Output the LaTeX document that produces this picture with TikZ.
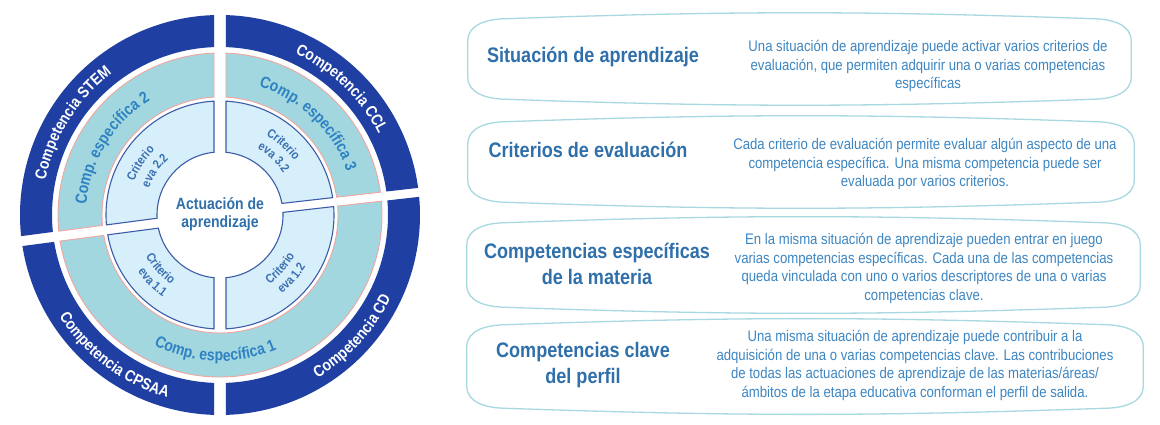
\documentclass[tikz,border=0pt]{standalone}
\usepackage{fontspec}
\setmainfont{Liberation Sans}[FakeStretch=0.86]
\usetikzlibrary{decorations.text}

\definecolor{azulosc}{HTML}{1F3FA3}
\definecolor{turquesa}{HTML}{A3D7E0}
\definecolor{celeste}{HTML}{D7EFFA}
\definecolor{contorno}{HTML}{3D5CA8}
\definecolor{salmon}{HTML}{F2A5A0}
\definecolor{azultit}{HTML}{2F6FAA}
\definecolor{azultxt}{HTML}{3D86C2}
\definecolor{azulesp}{HTML}{2E82C2}
\definecolor{azulcri}{HTML}{3A70B2}
\definecolor{borde}{HTML}{A8D9E2}

\tikzset{
  exterior/.style={fill=azulosc, draw=none},
  especifica/.style={fill=turquesa, draw=salmon, line width=0.9pt},
  criterio/.style={fill=celeste, draw=contorno, line width=1.1pt},
  marco/.style={draw=none, inner sep=0pt},
  bordecaja/.style={draw=borde, line width=1.3pt},
  titulo/.style={text=azultit, font=\bfseries\fontsize{21}{26}\selectfont, align=center},
  descripcion/.style={text=azultxt, font=\fontsize{15.3}{18.7}\selectfont, align=center},
  centro/.style={text=azultit, font=\bfseries\fontsize{16.3}{18.5}\selectfont, align=center}
}

% trozo de anillo: estilo, angulo 1, angulo 2, radio int, radio ext, medio hueco 1, medio hueco 2
\newcommand{\trozo}[7]{%
  \draw[#1] ({#2+asin(#6/#4)}:#4) -- ({#2+asin(#6/#5)}:#5)
    arc[start angle={#2+asin(#6/#5)}, end angle={#3-asin(#7/#5)}, radius=#5]
    -- ({#3-asin(#7/#4)}:#4)
    arc[start angle={#3-asin(#7/#4)}, end angle={#2+asin(#6/#4)}, radius=#4] -- cycle;}

% texto curvo: formato, angulo, radio, texto
\newcommand{\arcoarriba}[4]{%
  \path[decorate, decoration={text along path, text align=center, text={|#1|#4}}]
    ({#2+60}:#3) arc[start angle={#2+60}, end angle={#2-60}, radius=#3];}
\newcommand{\arcoabajo}[4]{%
  \path[decorate, decoration={text along path, text align=center, text={|#1|#4}}]
    ({#2-60}:#3) arc[start angle={#2-60}, end angle={#2+60}, radius=#3];}

% contorno de las cajas de la derecha
\newcommand{\caja}[1]{%
  \draw[bordecaja] ([yshift=-26]#1.north west) -- ([yshift=26]#1.south west)
    to[out=-90,in=178] ([xshift=36,yshift=4]#1.south west)
    to[bend right=2] ([xshift=-36,yshift=4]#1.south east)
    to[out=2,in=-90] ([yshift=26]#1.south east)
    -- ([yshift=-26]#1.north east)
    to[out=90,in=-2] ([xshift=-36,yshift=-4]#1.north east)
    to[bend right=2] ([xshift=36,yshift=-4]#1.north west)
    to[out=182,in=90] cycle;}

\begin{document}
\begin{tikzpicture}[x=1pt,y=1pt]
\useasboundingbox (0,0) rectangle (1160,425);
\fill[white] (0,0) rectangle (1160,425);

\begin{scope}[shift={(220,210)}]
% anillo exterior
\trozo{exterior}{90}{187.5}{168}{200}{6}{5} % STEM
\trozo{exterior}{6.5}{90}{168}{200}{4.5}{6} % CCL
\trozo{exterior}{187.5}{270}{168}{200}{5}{6} % CPSAA
\trozo{exterior}{270}{366.5}{168}{200}{6}{4.5} % CD
% competencias especificas
\trozo{especifica}{90}{187.5}{118}{162}{6}{5}
\trozo{especifica}{6.5}{90}{118}{162}{4.5}{6}
\trozo{especifica}{187.5}{366.5}{118}{162}{5}{4.5} % abajo, sin corte
% criterios
\trozo{criterio}{90}{187.5}{63}{114}{6}{5}
\trozo{criterio}{6.5}{90}{63}{114}{4.5}{6}
\trozo{criterio}{187.5}{270}{63}{114}{5}{6}
\trozo{criterio}{270}{366.5}{63}{114}{6}{4.5}

\arcoarriba{\color{white}\bfseries\fontsize{16}{16}\selectfont}{148}{178}{Competencia STEM}
\arcoarriba{\color{white}\bfseries\fontsize{16}{16}\selectfont}{46}{178}{Competencia CCL}
\arcoabajo{\color{white}\bfseries\fontsize{16}{16}\selectfont}{233}{190}{Competencia CPSAA}
\arcoabajo{\color{white}\bfseries\fontsize{16}{16}\selectfont}{317.5}{190}{Competencia CD}

\arcoarriba{\color{azulesp}\bfseries\fontsize{16.3}{16}\selectfont}{148.5}{134}{Comp. específica 2}
\arcoarriba{\color{azulesp}\bfseries\fontsize{16.3}{16}\selectfont}{46}{134}{Comp. específica 3}
\arcoabajo{\color{azulesp}\bfseries\fontsize{16.3}{16}\selectfont}{268}{146}{Comp. específica 1}

\arcoarriba{\color{azulcri}\bfseries\fontsize{12.5}{13}\selectfont}{147}{92}{Criterio}
\arcoarriba{\color{azulcri}\bfseries\fontsize{12.5}{13}\selectfont}{146}{76}{eva 2.2}
\arcoarriba{\color{azulcri}\bfseries\fontsize{12.5}{13}\selectfont}{48}{92}{Criterio}
\arcoarriba{\color{azulcri}\bfseries\fontsize{12.5}{13}\selectfont}{47}{76}{eva 3.2}
\arcoabajo{\color{azulcri}\bfseries\fontsize{12.5}{13}\selectfont}{222}{85}{Criterio}
\arcoabajo{\color{azulcri}\bfseries\fontsize{12.5}{13}\selectfont}{225}{100}{eva 1.1}
\arcoabajo{\color{azulcri}\bfseries\fontsize{12.5}{13}\selectfont}{318.5}{85}{Criterio}
\arcoabajo{\color{azulcri}\bfseries\fontsize{12.5}{13}\selectfont}{318.5}{100}{eva 1.2}

\node[centro] (act) at (0,1) {Actuación de\\aprendizaje};
\end{scope}

% cajas de la derecha
\node[marco, minimum width=663, minimum height=88] (c1) at (799.5,366) {};
\node[marco, minimum width=666, minimum height=88] (c2) at (801,263) {};
\node[marco, minimum width=673, minimum height=92] (c3) at (803.5,160) {};
\node[marco, minimum width=676, minimum height=91] (c4) at (805,58.5) {};
\caja{c1}
\caja{c2}
\caja{c3}
\caja{c4}

\node[titulo] (t1) at (593,368) {Situación de aprendizaje};
\node[titulo] (t2) at (588,275) {Criterios de evaluación};
\node[titulo] (t3) at (597,161) {Competencias específicas\\de la materia};
\node[titulo] (t4) at (583,60) {Competencias clave\\del perfil};

\node[descripcion] (d1) at (928,359) {Una situación de aprendizaje puede activar varios criterios de\\evaluación, que permiten adquirir una o varias competencias\\específicas};
\node[descripcion] (d2) at (925,261) {Cada criterio de evaluación permite evaluar algún aspecto de una\\competencia específica. Una misma competencia puede ser\\evaluada por varios criterios.};
\node[descripcion] (d3) at (924,156.5) {En la misma situación de aprendizaje pueden entrar en juego\\varias competencias específicas. Cada una de las competencias\\queda vinculada con uno o varios descriptores de una o varias\\competencias clave.};
\node[descripcion] (d4) at (915,59.5) {Una misma situación de aprendizaje puede contribuir a la\\adquisición de una o varias competencias clave. Las contribuciones\\de todas las actuaciones de aprendizaje de las materias/áreas/\\ámbitos de la etapa educativa conforman el perfil de salida.};
\end{tikzpicture}
\end{document}
